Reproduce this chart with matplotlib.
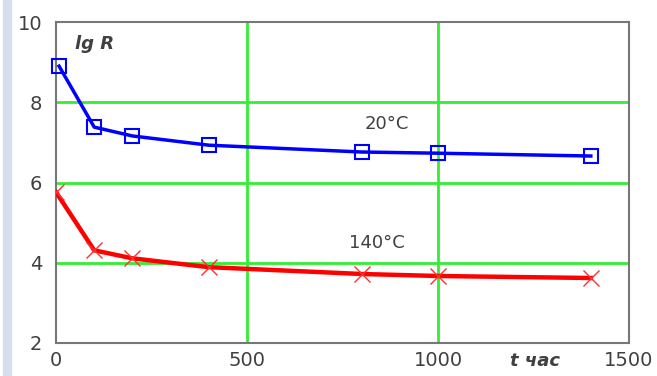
import matplotlib
import matplotlib.pyplot as plt
import numpy as np

matplotlib.use('Agg')

# resistance vs ageing time at two temperatures
t_20 = [8, 100, 200, 400, 800, 1000, 1400]
lgR_20 = [8.9, 7.38, 7.16, 6.93, 6.76, 6.73, 6.66]

t_140 = [0, 100, 200, 400, 800, 1000, 1400]
lgR_140 = [5.76, 4.31, 4.11, 3.89, 3.72, 3.67, 3.62]

x_ticks = [0, 500, 1000, 1500]
y_ticks = [2, 4, 6, 8, 10]

text_col = '#404040'
grid_col = '#33ee33'

fig = plt.figure(figsize=(6.57, 3.76), dpi=100)
fig.patches.append(plt.Rectangle((3 / 657, 0), 8 / 657, 1, transform=fig.transFigure,
                                 color='#d4dfee', zorder=0))
ax = fig.add_axes([56 / 657, 33 / 376, 573 / 657, 321 / 376])

ax.set_xlim(0, 1500)
ax.set_ylim(2, 10)

for yv in [4, 6, 8]:
    ax.axhline(yv, color=grid_col, lw=2, zorder=1)
for xv in [500, 1000, 1500]:
    ax.axvline(xv, color=grid_col, lw=2, zorder=1)

ax.plot(t_20, lgR_20, color='#0000ff', lw=2.5, marker='s', ms=10,
        mfc='none', mec='#0000ff', mew=1.5, zorder=3, clip_on=False)
ax.plot(t_140, lgR_140, color='#ff0000', lw=3.2, zorder=3)
ax.plot(t_140, lgR_140, ls='none', marker='x', ms=11, mec='#ff3030', mew=1.0, zorder=4)

for side in ['left', 'bottom', 'top', 'right']:
    ax.spines[side].set_color('#777777')
    ax.spines[side].set_linewidth(1.5)

ax.set_xticks(x_ticks)
ax.set_yticks(y_ticks)
ax.tick_params(length=0, labelsize=14, labelcolor=text_col)
ax.tick_params(axis='y', pad=10)
ax.tick_params(axis='x', pad=6)

ax.text(100, 9.45, 'lg R', fontsize=13, fontweight='bold', fontstyle='italic',
        color=text_col, ha='center', va='center')
ax.text(1255, 1.55, 't час', fontsize=13, fontweight='bold', fontstyle='italic',
        color=text_col, ha='center', va='center', clip_on=False)
ax.text(865, 7.45, '20°C', fontsize=13, color=text_col, ha='center', va='center')
ax.text(840, 4.5, '140°C', fontsize=13, color=text_col, ha='center', va='center')

fig.savefig('out.png', dpi=100)
